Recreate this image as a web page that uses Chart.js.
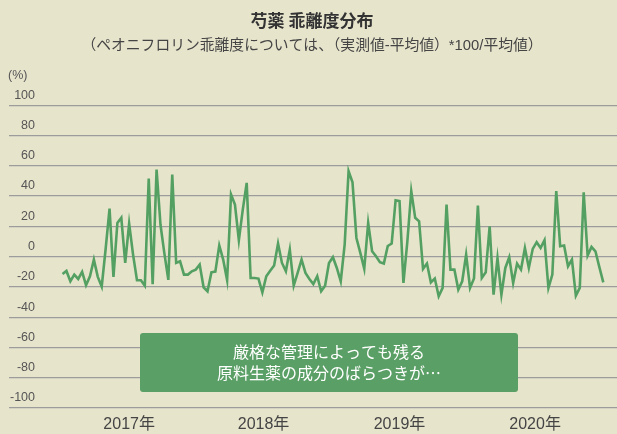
<!DOCTYPE html>
<html lang="ja">
<head>
<meta charset="utf-8">
<title>芍薬 乖離度分布</title>
<script src="https://cdn.jsdelivr.net/npm/chart.js@4"></script>
<style>
  html, body { margin: 0; padding: 0; background: #e7e4cc; }
  #wrap { position: relative; width: 617px; height: 434px; }
</style>
</head>
<body>
<div id="wrap"><canvas id="chart"></canvas></div>
<script>
// ペオニフロリン乖離度（%）ロットごと
const deviation = [
  -11.5, -9.5, -16.3, -11.9, -14.8, -10.1, -18.9, -13, -2, -13.4,
  -19.8, 5, 31.7, -13.4, 22.2, 25.6, -4.2, 21.8, 1.3, -15.6,
  -15.6, -19.2, 51.5, -18.3, 57.5, 21, 2, -15.4, 54.2, -4.2,
  -3.1, -11.9, -11.9, -9.7, -8.6, -5.3, -20.3, -22.9, -10.4, -9.9,
  7.3, -2, -15.6, 41, 34.4, 10.8, 31, 48.7, -14.1, -14.1,
  -14.5, -23.6, -13, -9.3, -5.9, 8.6, -4.2, -9.7, 4.6, -19.2,
  -10.8, -2, -10.8, -14.8, -18.1, -13, -22.9, -19.2, -4.2, -0.4,
  -7.5, -16.3, 7.9, 56.4, 49.1, 12.3, 2.4, -8.1, 22.2, 3.5,
  0.2, -3.7, -4.6, 7, 8.6, 37.2, 36.6, -17.4, 10.1, 43.2,
  25.6, 23.3, -8.1, -4.6, -17, -14.5, -26.2, -20.7, 34.4, -8.6,
  -8.6, -21.8, -16.3, 1.3, -20.7, -14.5, 33.7, -14.1, -10.4, 20,
  -25.1, -1, -25.1, -7.5, -0.4, -17.4, -4.6, -8.6, 5.7, -7.5,
  5.1, 9.5, 5.7, 10.8, -20.7, -11.9, 43.2, 6.8, 7.3, -6.4,
  -2, -25.8, -20.7, 42.5, 0.7, 6.4, 3.5, -7, -17
];

// 年ラベルとその中心（ロット番号）
const yearLabels = ['2017年', '2018年', '2019年', '2020年'];
const yearCenters = [17, 51.3, 86, 120.6];

const yTicks = { min: -100, max: 100, step: 20 };

const noteLines = ['厳格な管理によっても残る', '原料生薬の成分のばらつきが…'];

const points = deviation.map((v, i) => ({ x: i, y: v }));

const sansJP = '"Liberation Sans", "Noto Sans CJK JP", sans-serif';

// 背景・単位・コメント枠
const extras = {
  id: 'extras',
  beforeDraw(chart) {
    const ctx = chart.ctx;
    ctx.save();
    ctx.fillStyle = '#e7e4cc';
    ctx.fillRect(0, 0, chart.width, chart.height);
    ctx.restore();
  },
  afterDraw(chart) {
    const ctx = chart.ctx;
    ctx.save();
    ctx.fillStyle = '#555';
    ctx.font = '12.5px ' + sansJP;
    ctx.textAlign = 'left';
    ctx.textBaseline = 'middle';
    ctx.fillText('(%)', 8, 76);

    // コメント
    const bx = 140, by = 333, bw = 378, bh = 59;
    ctx.fillStyle = '#5a9f65';
    ctx.beginPath();
    ctx.roundRect(bx, by, bw, bh, 3);
    ctx.fill();
    ctx.fillStyle = '#fff';
    ctx.font = '16px "Noto Sans CJK JP", sans-serif';
    ctx.textAlign = 'center';
    ctx.fillText(noteLines[0], bx + bw / 2, 352);
    ctx.fillText(noteLines[1], bx + bw / 2, 373);
    ctx.restore();
  }
};

new Chart(document.getElementById('chart'), {
  type: 'line',
  data: {
    datasets: [{
      data: points,
      borderColor: '#54a062',
      borderWidth: 2.6,
      pointRadius: 0,
      tension: 0,
      fill: false
    }]
  },
  options: {
    responsive: true,
    maintainAspectRatio: false,
    animation: false,
    layout: { padding: { left: 7, right: 0, top: 0, bottom: 0 } },
    plugins: {
      legend: { display: false },
      tooltip: { enabled: false },
      title: {
        display: true,
        text: '芍薬 乖離度分布',
        color: '#333',
        font: { family: '"Noto Sans CJK JP", sans-serif', size: 17, weight: 'bold' },
        padding: { top: 10, bottom: 7 }
      },
      subtitle: {
        display: true,
        text: '（ペオニフロリン乖離度については、（実測値-平均値）*100/平均値）',
        color: '#444',
        font: { family: sansJP, size: 14.8 },
        padding: { top: 0, bottom: 50 }
      }
    },
    scales: {
      x: {
        type: 'linear',
        min: -13.66,
        max: 141.5,
        grid: { display: false, drawTicks: false },
        border: { display: false },
        afterBuildTicks(axis) {
          axis.ticks = yearCenters.map(v => ({ value: v }));
        },
        afterFit(axis) {
          axis.height = 26;
        },
        ticks: {
          autoSkip: false,
          maxRotation: 0,
          padding: 7,
          color: '#444',
          font: { family: sansJP, size: 16 },
          callback: (v, i) => yearLabels[i]
        }
      },
      y: {
        min: yTicks.min,
        max: yTicks.max,
        grid: { color: '#9c9c9c', lineWidth: 1.2, drawTicks: false },
        border: { display: false },
        ticks: {
          stepSize: yTicks.step,
          mirror: true,
          crossAlign: 'far',
          padding: 1,
          labelOffset: -10,
          color: '#555',
          font: { family: sansJP, size: 12.5 }
        }
      }
    }
  },
  plugins: [extras]
});
</script>
</body>
</html>
